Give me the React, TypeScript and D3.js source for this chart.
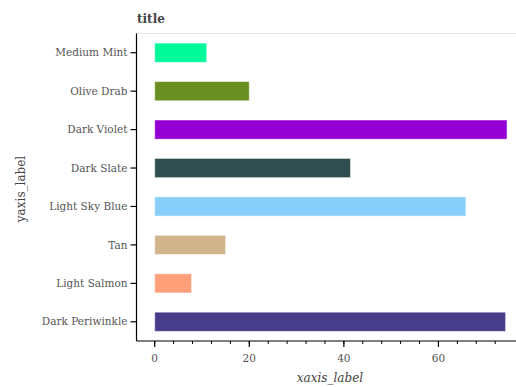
import React from "react";
import * as d3 from "d3";

const categories = ["Medium Mint", "Olive Drab", "Dark Violet", "Dark Slate", "Light Sky Blue", "Tan", "Light Salmon", "Dark Periwinkle"];
const values = [11, 20, 74.5, 41.4, 65.8, 15, 7.8, 74.2];
const colors = ["#00FA9A", "#6B8E23", "#9400D3", "#2F4F4F", "#87CEFA", "#D2B48C", "#FFA07A", "#483D8B"];
const xTicks = [0, 20, 40, 60];
const minorTicks = d3.range(0, 76, 4);

const W = 516, H = 387;
const left = 136.5, right = 516, top = 33.5, bottom = 341;

export default function App() {
  const x = d3.scaleLinear().domain([-3.85, 76.4]).range([left, right]);
  const y = d3.scaleBand().domain(categories).range([top, bottom]).padding(0.5).paddingOuter(0.25);
  const font = "'DejaVu Serif', serif";
  return (
    <svg width={W} height={H} style={{ position: "absolute", left: 0, top: 0, background: "#fff" }}>
      <line x1={left} x2={right} y1={top} y2={top} stroke="#e6e6e6" strokeWidth={1.2} />
      {categories.map((c, i) => (
        <rect key={c} x={x(0)} y={y(c)!} width={x(values[i]) - x(0)} height={y.bandwidth()}
          fill={colors[i]} stroke="#ffffff" strokeOpacity={0.5} strokeWidth={1} />
      ))}
      <line x1={left} x2={left} y1={top} y2={bottom} stroke="#000" strokeWidth={1.2} />
      <line x1={left} x2={right} y1={bottom} y2={bottom} stroke="#000" strokeWidth={1.2} />
      {categories.map((c) => {
        const cy = y(c)! + y.bandwidth() / 2;
        return (
          <g key={c}>
            <line x1={left - 6} x2={left} y1={cy} y2={cy} stroke="#000" strokeWidth={1.2} />
            <text x={left - 9} y={cy} dy="0.35em" textAnchor="end" fontFamily={font} fontSize={10.5} fill="#555">{c}</text>
          </g>
        );
      })}
      {minorTicks.map((t) => (
        <line key={"m" + t} x1={x(t)} x2={x(t)} y1={bottom} y2={bottom + 3} stroke="#000" strokeWidth={1} />
      ))}
      {xTicks.map((t) => (
        <g key={t}>
          <line x1={x(t)} x2={x(t)} y1={bottom} y2={bottom + 6} stroke="#000" strokeWidth={1.2} />
          <text x={x(t)} y={bottom + 17} dy="0.35em" textAnchor="middle" fontFamily={font} fontSize={10.5} fill="#555">{t}</text>
        </g>
      ))}
      <text x={137} y={23} fontFamily={font} fontSize={12} fontWeight="bold" fill="#444">title</text>
      <text x={330} y={382} textAnchor="middle" fontFamily={font} fontSize={12} fontStyle="italic" fill="#444">xaxis_label</text>
      <text transform="translate(25,189) rotate(-90)" textAnchor="middle" fontFamily={font} fontSize={12} fill="#444">yaxis_label</text>
    </svg>
  );
}
